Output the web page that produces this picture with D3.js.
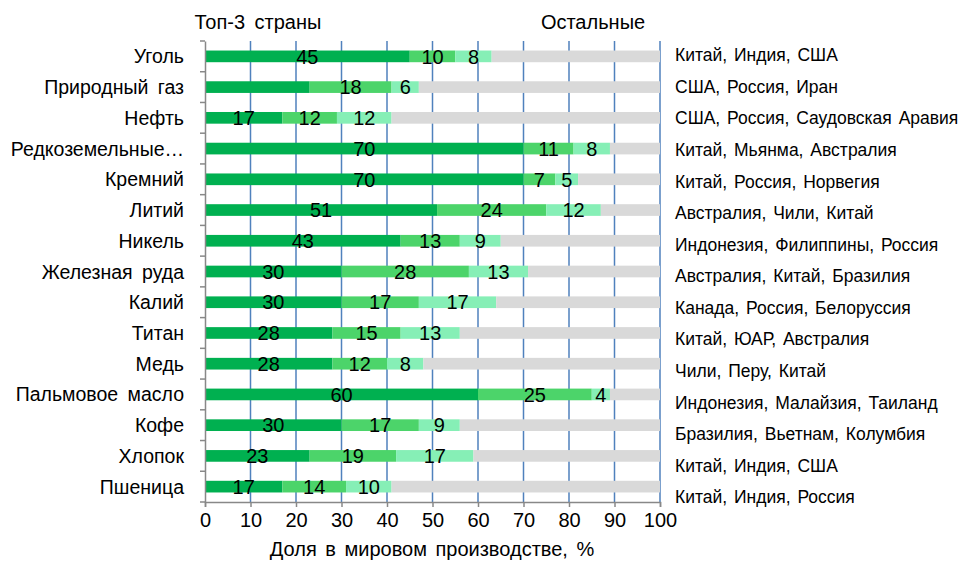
<!DOCTYPE html>
<html>
<head>
<meta charset="utf-8">
<script src="https://cdn.jsdelivr.net/npm/d3@7"></script>
<style>
  body { margin: 0; background: #fff; }
  text { font-family: "Liberation Sans", Arial, sans-serif; fill: #000; }
</style>
</head>
<body>
<div id="chart"></div>
<script>
// data
var categories = ["Уголь", "Природный газ", "Нефть", "Редкоземельные…", "Кремний", "Литий", "Никель",
  "Железная руда", "Калий", "Титан", "Медь", "Пальмовое масло", "Кофе", "Хлопок", "Пшеница"]
var first = [45, 23, 17, 70, 70, 51, 43, 30, 30, 28, 28, 60, 30, 23, 17]
var second = [10, 18, 12, 11, 7, 24, 13, 28, 17, 15, 12, 25, 17, 19, 14]
var third = [8, 6, 12, 8, 5, 12, 9, 13, 17, 13, 8, 4, 9, 17, 10]
// первый сегмент "Природный газ" на картинке без подписи
var showFirst = [1, 0, 1, 1, 1, 1, 1, 1, 1, 1, 1, 1, 1, 1, 1]
var countries = ["Китай, Индия, США", "США, Россия, Иран", "США, Россия, Саудовская Аравия",
  "Китай, Мьянма, Австралия", "Китай, Россия, Норвегия", "Австралия, Чили, Китай",
  "Индонезия, Филиппины, Россия", "Австралия, Китай, Бразилия", "Канада, Россия, Белоруссия",
  "Китай, ЮАР, Австралия", "Чили, Перу, Китай", "Индонезия, Малайзия, Таиланд",
  "Бразилия, Вьетнам, Колумбия", "Китай, Индия, США", "Китай, Индия, Россия"]
var xTicks = [0, 10, 20, 30, 40, 50, 60, 70, 80, 90, 100]

var colors = ["#00B050", "#4CD46A", "#86EFB6", "#D9D9D9"]

var W = 972, H = 561
var svg = d3.select("#chart").append("svg").attr("width", W).attr("height", H)

var x = d3.scaleLinear().domain([0, 100]).range([205, 660])
var y = d3.scaleBand().domain(categories).range([41, 502]).paddingInner(0.62).paddingOuter(0.31)
var yBand = d3.scaleBand().domain(categories).range([41, 502])
var yRight = d3.scalePoint().domain(d3.range(categories.length)).range([55, 497])

// stacked rows
var rows = categories.map(function (c, i) {
  return { cat: c, vals: [first[i], second[i], third[i], 100 - first[i] - second[i] - third[i]], show: showFirst[i] }
})
var stack = d3.stack().keys([0, 1, 2, 3]).value(function (d, k) { return d.vals[k] })
var series = stack(rows)

// grid
svg.append("g").selectAll("line").data(xTicks.filter(function (t) { return t > 0 }))
  .join("line")
  .attr("x1", d => x(d)).attr("x2", d => x(d))
  .attr("y1", 41).attr("y2", 502)
  .attr("stroke", "#4F81BD").attr("stroke-width", 1.5)

// bars
svg.append("g").selectAll("g").data(series).join("g")
  .attr("fill", (s, i) => colors[i])
  .selectAll("rect").data(s => s).join("rect")
  .attr("x", d => x(d[0]))
  .attr("width", d => x(d[1]) - x(d[0]))
  .attr("y", d => y(d.data.cat))
  .attr("height", y.bandwidth())

// value labels (first 3 segments)
svg.append("g").selectAll("g").data(series.slice(0, 3)).join("g")
  .selectAll("text").data((s, si) => s.map(d => ({ d: d, si: si })).filter(o => o.si > 0 || o.d.data.show))
  .join("text")
  .attr("x", o => x((o.d[0] + o.d[1]) / 2))
  .attr("y", o => y(o.d.data.cat) + y.bandwidth() / 2)
  .attr("dy", "0.36em")
  .attr("text-anchor", "middle")
  .style("font-size", "20px")
  .text(o => o.d[1] - o.d[0])

// axes
var yAxis = d3.axisLeft(yBand).tickSize(0).tickFormat("")
svg.append("g").attr("transform", "translate(205,0)").call(yAxis)
  .call(g => g.select(".domain").attr("stroke", "#888").attr("stroke-width", 1.5))
// category boundary ticks
svg.append("g").selectAll("line").data(d3.range(categories.length + 1))
  .join("line")
  .attr("x1", 200).attr("x2", 205)
  .attr("y1", i => 41 + i * yBand.step()).attr("y2", i => 41 + i * yBand.step())
  .attr("stroke", "#888").attr("stroke-width", 1.5)

svg.append("g").selectAll("text").data(categories).join("text")
  .attr("x", 184).attr("y", d => yBand(d) + yBand.bandwidth() / 2)
  .attr("dy", "0.36em").attr("text-anchor", "end")
  .style("font-size", "19.5px").style("word-spacing", "4px")
  .text(d => d)

var xAxis = d3.axisBottom(x).tickValues(xTicks).tickSize(5).tickPadding(6)
svg.append("g").attr("transform", "translate(0,502)").call(xAxis)
  .call(g => g.select(".domain").attr("stroke", "#888").attr("stroke-width", 1.5))
  .call(g => g.selectAll(".tick line").attr("stroke", "#888").attr("stroke-width", 1.5))
  .call(g => g.selectAll(".tick text").style("font-size", "20px").attr("font-family", "Liberation Sans, Arial, sans-serif"))

// right labels
svg.append("g").selectAll("text").data(countries).join("text")
  .attr("x", 675).attr("y", (d, i) => yRight(i))
  .attr("dy", "0.36em").style("font-size", "17.5px").style("word-spacing", "2px")
  .text(d => d)

// titles
svg.append("text").attr("x", 258).attr("y", 29).attr("text-anchor", "middle").style("font-size", "20px").style("word-spacing", "4px").text("Топ-3 страны")
svg.append("text").attr("x", 593).attr("y", 29).attr("text-anchor", "middle").style("font-size", "20px").text("Остальные")
svg.append("text").attr("x", 432).attr("y", 556).attr("text-anchor", "middle").style("font-size", "20px").style("word-spacing", "3px").text("Доля в мировом производстве, %")
</script>
</body>
</html>
